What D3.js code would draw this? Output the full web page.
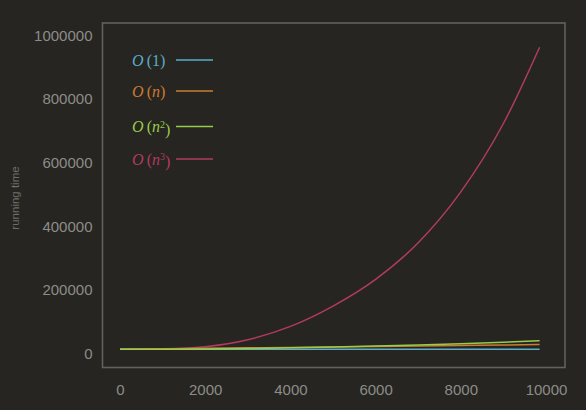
<!DOCTYPE html>
<html><head><meta charset="utf-8">
<script src="https://cdn.jsdelivr.net/npm/d3@7"></script>
<style>
html,body{margin:0;padding:0;background:#262521;}
svg{display:block;}
</style></head>
<body>
<script>
const xValues = [0, 1000, 2000, 3000, 4000, 5000, 6000, 7000, 8000, 9000, 9850];
const constantValues = [1, 1, 1, 1, 1, 1, 1, 1, 1, 1, 1];
const linearValues = [0, 1500, 3000, 4500, 6000, 7500, 9000, 10500, 12000, 13500, 15000];
const quadraticValues = [0, 280, 1100, 2500, 4500, 7000, 10000, 13600, 17800, 22500, 27000];
const cubicValues = [0, 1000, 8000, 30000, 72000, 136000, 220000, 335000, 495000, 710000, 950000];
const xTicks = [0, 2000, 4000, 6000, 8000, 10000];
const yTicks = [0, 200000, 400000, 600000, 800000, 1000000];
const seriesNames = ["1", "n", "n2", "n3"];
const seriesColors = ["#5aaec8", "#cc7c32", "#98cc4a", "#b23b60"];

const W = 586, H = 410;
const svg = d3.select("body").append("svg").attr("width", W).attr("height", H);
svg.append("rect").attr("width", W).attr("height", H).attr("fill", "#262521");

const x = d3.scaleLinear().domain([0, 10000]).range([120, 546]);
const y = d3.scaleLinear().domain([0, 1000000]).range([349.3, 31.3]);

// frame
svg.append("rect").attr("x", 102.5).attr("y", 23).attr("width", 462.5).attr("height", 344.5)
  .attr("fill", "none").attr("stroke", "#62615d").attr("stroke-width", 1.6);

// axes (labels only)
const labelFont = "Liberation Sans, Arial, sans-serif";
const xAxis = d3.axisBottom(x).tickValues(xTicks).tickFormat(d3.format("d")).tickSize(0).tickPadding(0);
const gx = svg.append("g").attr("transform", "translate(0,384)").call(xAxis);
gx.select(".domain").remove();
gx.selectAll("text").attr("fill", "#8d8c88").style("font-family", labelFont).style("font-size", "15px").attr("dy", "0.71em").attr("y", 0);

const yAxis = d3.axisLeft(y).tickValues(yTicks).tickFormat(d3.format("d")).tickSize(0).tickPadding(0);
const gy = svg.append("g").attr("transform", "translate(92.5,0)").call(yAxis);
gy.select(".domain").remove();
gy.selectAll("text").attr("fill", "#8d8c88").style("font-family", labelFont).style("font-size", "15px").attr("dy", "0.6em").attr("x", 0);

svg.append("text").attr("transform", "translate(19,198) rotate(-90)")
  .attr("text-anchor", "middle").attr("fill", "#6e6d69")
  .style("font-family", labelFont).style("font-size", "11.5px")
  .text("running time");

// lines
const allValues = [constantValues, linearValues, quadraticValues, cubicValues];
const line = d3.line().x((d, i) => x(xValues[i])).y(d => y(d)).curve(d3.curveMonotoneX);
const order = [3, 0, 1, 2];
order.forEach(k => {
  svg.append("path").datum(allValues[k]).attr("d", line)
    .attr("fill", "none").attr("stroke", seriesColors[k]).attr("stroke-width", 1.5);
});

// legend
const legendY = [60, 91, 126.5, 159];
seriesNames.forEach((name, i) => {
  const t = svg.append("text").attr("x", 132).attr("y", legendY[i]).attr("dy", "0.35em")
    .attr("fill", seriesColors[i]).style("font-family", "Liberation Serif, Times New Roman, serif").style("font-size", "16px");
  t.append("tspan").style("font-style", "italic").text("O");
  t.append("tspan").text("\u2009(");
  if (name === "1") {
    t.append("tspan").text("1");
    t.append("tspan").text(")");
  } else {
    t.append("tspan").style("font-style", "italic").text("n");
    if (name.length > 1) {
      t.append("tspan").attr("dy", "-0.45em").style("font-size", "10px").text(name[1]);
      t.append("tspan").attr("dy", "0.45em").text(")");
    } else {
      t.append("tspan").text(")");
    }
  }
  svg.append("line").attr("x1", 176).attr("x2", 213).attr("y1", legendY[i]).attr("y2", legendY[i])
    .attr("stroke", seriesColors[i]).attr("stroke-width", 1.6);
});
</script>
</body></html>
